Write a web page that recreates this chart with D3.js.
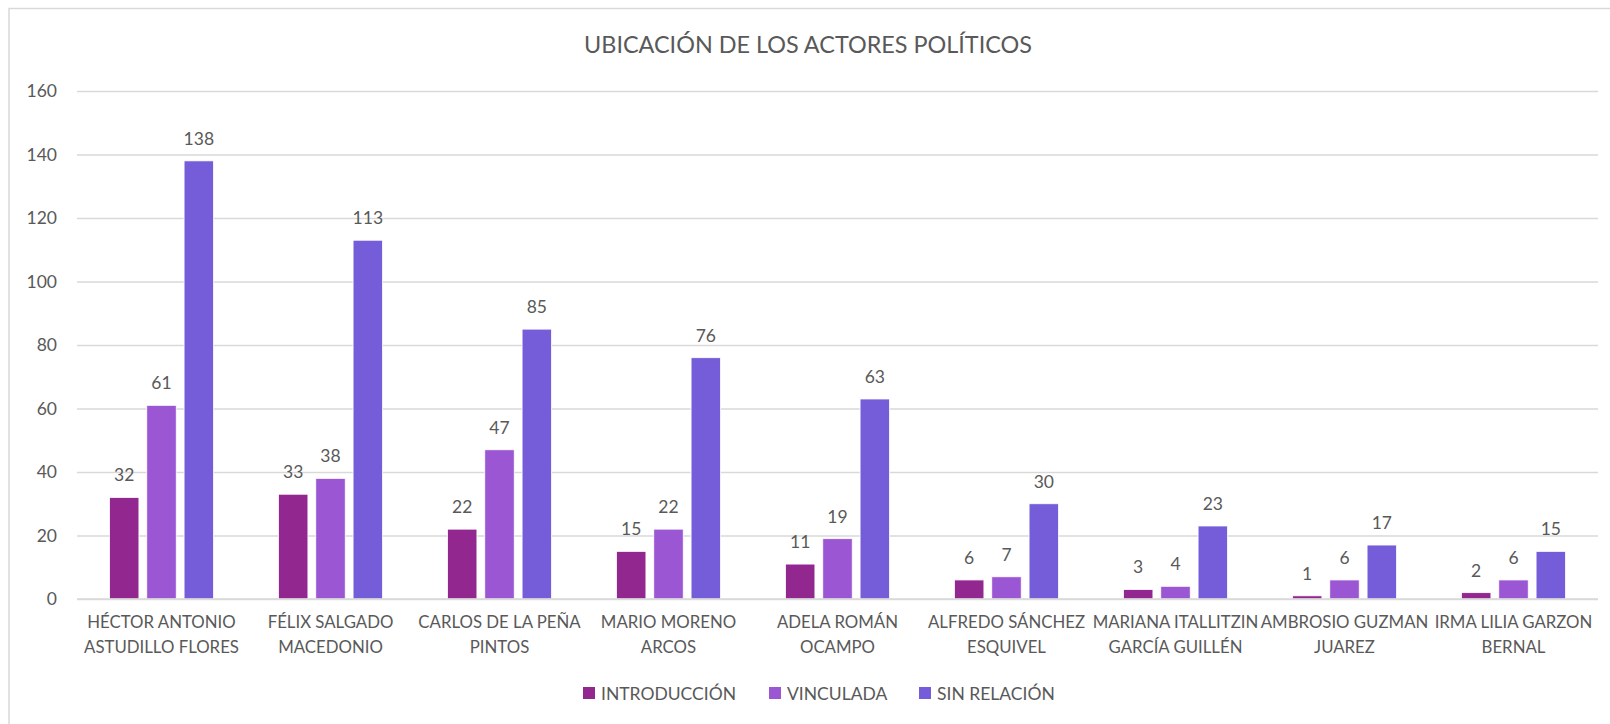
<!DOCTYPE html>
<html>
<head>
<meta charset="utf-8">
<script src="https://cdn.jsdelivr.net/npm/d3@7"></script>
<style>
	body { margin: 0; background: #fff; }
	text { font-family: Lato, "Noto Sans", sans-serif; fill: #595959; }
</style>
</head>
<body>
<script>
var categoryLines = [
	["HÉCTOR ANTONIO", "ASTUDILLO FLORES"],
	["FÉLIX SALGADO", "MACEDONIO"],
	["CARLOS DE LA PEÑA", "PINTOS"],
	["MARIO MORENO", "ARCOS"],
	["ADELA ROMÁN", "OCAMPO"],
	["ALFREDO SÁNCHEZ", "ESQUIVEL"],
	["MARIANA ITALLITZIN", "GARCÍA GUILLÉN"],
	["AMBROSIO GUZMAN", "JUAREZ"],
	["IRMA LILIA GARZON", "BERNAL"]
]
var categories = categoryLines.map((d) => d.join(" "))
var seriesNames = ["INTRODUCCIÓN", "VINCULADA", "SIN RELACIÓN"]
var introduccion = [32, 33, 22, 15, 11, 6, 3, 1, 2]
var vinculada = [61, 38, 47, 22, 19, 7, 4, 6, 6]
var sinRelacion = [138, 113, 85, 76, 63, 30, 23, 17, 15]
var yTicks = [0, 20, 40, 60, 80, 100, 120, 140, 160]
var colors = ["#92278F", "#9B57D3", "#755DD9"]

function main() {
	var w = 1610
	var h = 724
	var left = 77, right = 1598, top = 91, bottom = 599

	var seriesValues = [introduccion, vinculada, sinRelacion]
	var rows = categories.map((c, i) => ({
		name: c,
		values: seriesNames.map((s, j) => ({ key: s, value: seriesValues[j][i] }))
	}))

	var svg = d3.select("body")
		.append("svg")
		.attr("width", w)
		.attr("height", h)

	// chart frame
	svg.append("rect")
		.attr("x", 9)
		.attr("y", 8.5)
		.attr("width", w)
		.attr("height", h)
		.attr("fill", "none")
		.attr("stroke", "#d9d9d9")
		.attr("stroke-width", 1.5)

	svg.append("text")
		.attr("x", 808)
		.attr("y", 53)
		.attr("text-anchor", "middle")
		.style("font-size", "23.4px")
		.text("UBICACIÓN DE LOS ACTORES POLÍTICOS")

	var x0 = d3.scaleBand()
		.domain(categories)
		.range([left, right])

	var x1 = d3.scaleBand()
		.domain(seriesNames)
		.range([0, x0.bandwidth()])
		.paddingInner(0.21)
		.paddingOuter(0.87)

	var yScale = d3.scaleLinear()
		.domain([0, 160])
		.range([bottom, top])

	var colorScale = d3.scaleOrdinal().domain(seriesNames).range(colors)

	// gridlines + y labels
	var yAxis = d3.axisLeft(yScale)
		.tickValues(yTicks)
		.tickSize(-(right - left))
		.tickPadding(20)

	svg.append("g")
		.attr("class", "y axis")
		.attr("transform", "translate(" + left + ",0)")
		.call(yAxis)
		.call((g) => g.select(".domain").remove())
		.call((g) => g.selectAll("line").attr("stroke", "#d9d9d9").attr("stroke-width", 1.3))
		.call((g) => g.selectAll("text")
			.style("font-size", "17.5px")
			.style("font-family", "Lato, sans-serif")
			.attr("fill", "#595959"))

	// bars
	var groups = svg.append("g")
		.selectAll("g")
		.data(rows)
		.enter()
		.append("g")
		.attr("transform", (d) => "translate(" + x0(d.name) + ",0)")

	groups.selectAll("rect")
		.data((d) => d.values)
		.enter()
		.append("rect")
		.attr("x", (d) => x1(d.key))
		.attr("y", (d) => yScale(d.value))
		.attr("width", x1.bandwidth())
		.attr("height", (d) => yScale(0) - yScale(d.value))
		.attr("fill", (d) => colorScale(d.key))
		.attr("stroke", "#fff")
		.attr("stroke-width", 0.8)

	groups.selectAll(".label")
		.data((d) => d.values)
		.enter()
		.append("text")
		.attr("class", "label")
		.attr("x", (d) => x1(d.key) + x1.bandwidth() / 2)
		.attr("y", (d) => yScale(d.value) - 16)
		.attr("text-anchor", "middle")
		.style("font-size", "17.5px")
		.text((d) => d.value)

	// baseline
	svg.append("line")
		.attr("x1", left)
		.attr("x2", right)
		.attr("y1", bottom)
		.attr("y2", bottom)
		.attr("stroke", "#d9d9d9")
		.attr("stroke-width", 1.5)

	// x labels
	var xAxis = d3.axisBottom(x0).tickSize(0).tickFormat("")
	var xg = svg.append("g")
		.attr("class", "x axis")
		.attr("transform", "translate(0," + bottom + ")")
		.call(xAxis)
	xg.select(".domain").remove()
	xg.selectAll(".tick").each(function (d, i) {
		var t = d3.select(this).append("text")
			.attr("text-anchor", "middle")
			.attr("fill", "#595959")
			.style("font-size", "16.8px")
			.style("font-family", "Lato, sans-serif")
		categoryLines[i].forEach((line, k) => {
			t.append("tspan")
				.attr("x", 0)
				.attr("y", 29 + k * 25)
				.text(line)
		})
	})

	// legend
	var legendX = [583, 769, 919]
	var legend = svg.append("g")
		.selectAll("g")
		.data(seriesNames)
		.enter()
		.append("g")
		.attr("transform", (d, i) => "translate(" + legendX[i] + ",687)")

	legend.append("rect")
		.attr("width", 12)
		.attr("height", 12)
		.attr("fill", (d) => colorScale(d))

	legend.append("text")
		.attr("x", 18)
		.attr("y", 12.5)
		.style("font-size", "17.5px")
		.text((d) => d)
}

main()
</script>
</body>
</html>
